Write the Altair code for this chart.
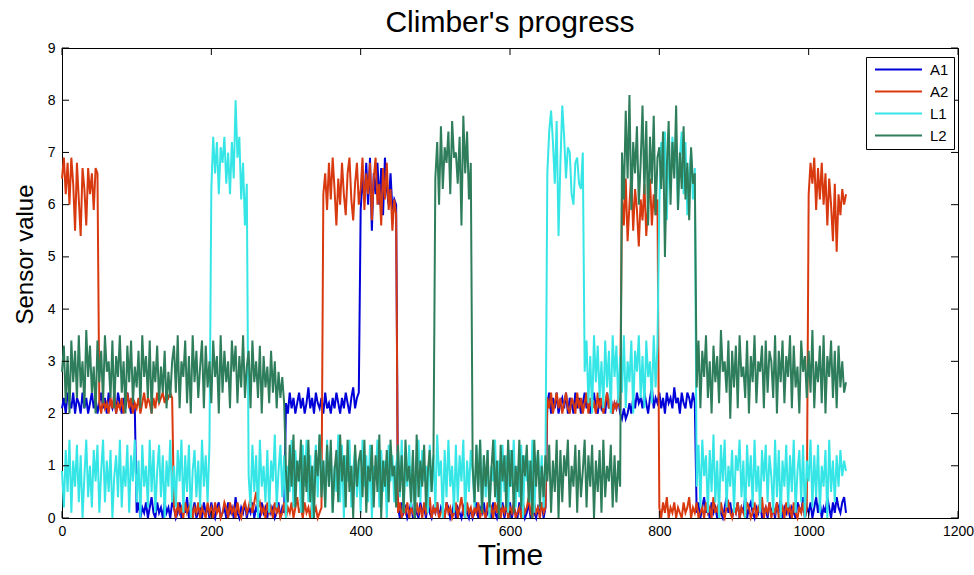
import altair as alt
import pandas as pd

FONT = "Liberation Sans, Arial, sans-serif"

SERIES = ["A1", "A2", "L1", "L2"]
COLORS = ["#0000d8", "#d8390f", "#36e6e6", "#2e7d5b"]
STEP = 2.5  # sample spacing along Time
XTICKS = [0, 200, 400, 600, 800, 1000, 1200]
YTICKS = [0, 1, 2, 3, 4, 5, 6, 7, 8, 9]

A1 = [
    # 0-97.5
    2.1, 2.3, 2.0, 2.4, 2.2, 2.1, 2.4, 2.0, 2.3, 2.2, 2.0, 2.4, 2.1, 2.3, 2.0, 2.2, 2.4, 2.1, 2.3, 2.0,
    2.2, 2.4, 2.1, 2.3, 2.0, 2.4, 2.2, 2.1, 2.3, 2.0, 2.4, 2.2, 2.0, 2.3, 2.1, 2.4, 2.2, 2.0, 2.3, 2.1,
    # 100-297.5
    0.1, 0.3, 0.0, 0.2, 0.1, 0.3, 0.0, 0.2, 0.4, 0.1, 0.0, 0.3, 0.1, 0.2, 0.0, 0.3, 0.1, 0.2, 0.0, 0.3,
    0.2, 0.0, 0.1, 0.3, 0.0, 0.2, 0.1, 0.4, 0.0, 0.2, 0.1, 0.3, 0.0, 0.1, 0.2, 0.0, 0.3, 0.1, 0.2, 0.0,
    0.3, 0.1, 0.0, 0.2, 0.3, 0.0, 0.1, 0.2, 0.0, 0.3, 0.1, 0.2, 0.0, 0.4, 0.1, 0.0, 0.2, 0.1, 0.3, 0.0,
    0.2, 0.1, 0.3, 0.0, 0.2, 0.1, 0.0, 0.3, 0.1, 0.2, 0.0, 0.3, 0.1, 0.2, 0.0, 0.1, 0.3, 0.0, 0.2, 0.1,
    # 300-397.5
    2.2, 2.0, 2.4, 2.1, 2.3, 2.0, 2.2, 2.4, 2.1, 2.3, 2.0, 2.2, 2.5, 2.1, 2.3, 2.0, 2.4, 2.2, 2.1, 2.3,
    2.0, 2.4, 2.1, 2.2, 2.0, 2.3, 2.1, 2.4, 2.2, 2.0, 2.3, 2.1, 2.4, 2.2, 2.0, 2.3, 2.5, 2.1, 2.3, 2.4,
    # 400-447.5
    5.9, 6.5, 6.1, 6.8, 6.0, 6.9, 5.5, 6.6, 6.2, 6.8, 6.0, 6.7, 5.8, 6.9, 6.3, 6.0, 6.6, 5.9, 6.1, 6.0,
    # 450-647.5
    0.2, 0.0, 0.3, 0.1, 0.2, 0.0, 0.1, 0.3, 0.0, 0.2, 0.1, 0.0, 0.3, 0.1, 0.2, 0.0, 0.3, 0.1, 0.0, 0.2,
    0.1, 0.3, 0.0, 0.2, 0.1, 0.0, 0.3, 0.2, 0.0, 0.1, 0.3, 0.0, 0.2, 0.1, 0.0, 0.2, 0.3, 0.1, 0.0, 0.2,
    0.0, 0.1, 0.3, 0.0, 0.2, 0.1, 0.3, 0.0, 0.1, 0.2, 0.0, 0.3, 0.1, 0.0, 0.2, 0.1, 0.3, 0.0, 0.2, 0.1,
    0.3, 0.0, 0.2, 0.1, 0.0, 0.3, 0.1, 0.2, 0.0, 0.1, 0.3, 0.0, 0.2, 0.1, 0.0, 0.2, 0.1, 0.3, 0.0, 0.2,
    # 650-847.5
    2.2, 2.4, 2.0, 2.3, 2.1, 2.4, 2.0, 2.2, 2.3, 2.1, 2.4, 2.0, 2.3, 2.2, 2.0, 2.4, 2.1, 2.3, 2.0, 2.2,
    2.4, 2.1, 2.3, 2.0, 2.2, 2.4, 2.1, 2.0, 2.3, 2.1, 2.2, 2.0, 2.4, 2.1, 2.3, 2.0, 2.2, 2.1, 2.3, 2.0,
    1.9, 2.1, 1.9, 2.0, 2.2, 2.0, 2.3, 2.1, 2.4, 2.2, 2.3, 2.1, 2.4, 2.2, 2.0, 2.3, 2.5, 2.1, 2.3, 2.2,
    2.4, 2.1, 2.3, 2.0, 2.4, 2.2, 2.3, 2.1, 2.5, 2.2, 2.3, 2.0, 2.4, 2.2, 2.1, 2.4, 2.3, 2.1, 2.4, 2.2,
    # 850-1050
    0.1, 0.3, 0.0, 0.2, 0.4, 0.1, 0.2, 0.0, 0.3, 0.1, 0.2, 0.0, 0.3, 0.1, 0.0, 0.2, 0.4, 0.1, 0.3, 0.0,
    0.2, 0.1, 0.3, 0.0, 0.2, 0.1, 0.4, 0.0, 0.2, 0.3, 0.1, 0.0, 0.2, 0.1, 0.3, 0.0, 0.1, 0.2, 0.0, 0.3,
    0.1, 0.2, 0.0, 0.3, 0.1, 0.4, 0.0, 0.2, 0.1, 0.3, 0.0, 0.2, 0.1, 0.0, 0.3, 0.2, 0.1, 0.4, 0.0, 0.2,
    0.1, 0.3, 0.0, 0.2, 0.4, 0.1, 0.3, 0.0, 0.2, 0.1, 0.4, 0.2, 0.0, 0.3, 0.1, 0.4, 0.2, 0.1, 0.3, 0.4,
    0.1,
]

A2 = [
    # 0-47.5
    6.5, 6.9, 6.2, 6.8, 6.0, 6.9, 6.4, 5.5, 6.8, 6.1, 5.4, 6.7, 6.3, 5.6, 6.7, 6.2, 6.6, 5.9, 6.7, 6.6,
    # 50-147.5
    2.2, 2.0, 2.3, 2.1, 2.2, 2.0, 2.3, 2.1, 2.4, 2.0, 2.2, 2.1, 2.3, 2.0, 2.2, 2.4, 2.1, 2.3, 2.0, 2.2,
    2.1, 2.3, 2.0, 2.2, 2.4, 2.1, 2.3, 2.2, 2.0, 2.3, 2.1, 2.4, 2.2, 2.3, 2.4, 2.2, 2.4, 2.3, 2.4, 2.3,
    # 150-347.5
    0.2, 0.0, 0.3, 0.1, 0.2, 0.0, 0.3, 0.1, 0.2, 0.3, 0.0, 0.2, 0.1, 0.3, 0.0, 0.2, 0.1, 0.0, 0.3, 0.1,
    0.2, 0.0, 0.3, 0.1, 0.2, 0.0, 0.1, 0.3, 0.2, 0.0, 0.3, 0.1, 0.2, 0.0, 0.3, 0.1, 0.0, 0.2, 0.3, 0.1,
    0.2, 0.4, 0.1, 0.3, 0.5, 0.2, 0.3, 0.1, 0.2, 0.0, 0.3, 0.1, 0.2, 0.0, 0.3, 0.1, 0.2, 0.0, 0.1, 0.3,
    0.0, 0.2, 0.1, 0.3, 0.0, 0.2, 0.4, 0.1, 0.2, 0.0, 0.3, 0.1, 0.2, 0.0, 0.3, 0.1, 0.2, 0.0, 0.1, 0.2,
    # 350-447.5
    6.2, 6.6, 5.9, 6.8, 6.1, 6.9, 6.3, 5.6, 6.5, 6.0, 6.8, 6.2, 5.8, 6.6, 6.9, 6.1, 5.7, 6.4, 6.8, 6.0,
    6.3, 6.9, 5.9, 6.6, 6.2, 6.8, 5.7, 6.5, 6.9, 6.0, 6.4, 5.6, 6.7, 6.1, 6.8, 5.9, 6.3, 5.5, 6.1, 5.8,
    # 450-647.5
    0.1, 0.3, 0.0, 0.2, 0.1, 0.3, 0.0, 0.2, 0.1, 0.0, 0.3, 0.1, 0.2, 0.0, 0.3, 0.1, 0.2, 0.4, 0.0, 0.2,
    0.1, 0.3, 0.0, 0.1, 0.2, 0.0, 0.3, 0.1, 0.2, 0.0, 0.1, 0.3, 0.0, 0.2, 0.4, 0.1, 0.0, 0.3, 0.1, 0.2,
    0.0, 0.2, 0.1, 0.3, 0.0, 0.2, 0.1, 0.0, 0.3, 0.1, 0.2, 0.0, 0.3, 0.1, 0.4, 0.0, 0.2, 0.1, 0.3, 0.0,
    0.2, 0.1, 0.3, 0.0, 0.1, 0.2, 0.0, 0.3, 0.1, 0.2, 0.4, 0.1, 0.0, 0.3, 0.1, 0.2, 0.0, 0.3, 0.1, 0.2,
    # 650-747.5
    2.3, 2.1, 2.4, 2.0, 2.2, 2.4, 2.1, 2.3, 2.0, 2.2, 2.4, 2.1, 2.0, 2.3, 2.2, 2.0, 2.4, 2.1, 2.3, 2.0,
    2.2, 2.4, 2.0, 2.3, 2.1, 2.2, 2.0, 2.4, 2.1, 2.3, 2.0, 2.2, 2.4, 2.1, 2.3, 2.0, 2.2, 2.1, 2.3, 2.1,
    # 750-797.5
    6.2, 5.6, 6.5, 5.3, 6.0, 6.6, 5.5, 6.3, 5.9, 5.2, 6.1, 5.7, 6.4, 5.4, 6.0, 6.5, 5.6, 6.2, 5.8, 6.1,
    # 800-997.5
    0.2, 0.0, 0.3, 0.1, 0.4, 0.0, 0.2, 0.1, 0.3, 0.0, 0.2, 0.1, 0.0, 0.3, 0.1, 0.2, 0.4, 0.0, 0.2, 0.1,
    0.3, 0.0, 0.1, 0.2, 0.0, 0.3, 0.1, 0.2, 0.0, 0.4, 0.1, 0.2, 0.0, 0.3, 0.1, 0.0, 0.2, 0.3, 0.1, 0.0,
    0.2, 0.1, 0.3, 0.0, 0.2, 0.1, 0.0, 0.3, 0.2, 0.0, 0.1, 0.3, 0.0, 0.2, 0.1, 0.4, 0.0, 0.2, 0.1, 0.3,
    0.0, 0.2, 0.1, 0.3, 0.0, 0.1, 0.2, 0.0, 0.3, 0.1, 0.2, 0.0, 0.3, 0.1, 0.0, 0.2, 0.1, 0.3, 0.0, 0.2,
    # 1000-1050
    6.2, 6.8, 6.4, 6.9, 5.9, 6.7, 6.1, 6.8, 6.0, 6.6, 5.6, 6.5, 6.0, 5.3, 6.4, 5.1, 6.2, 5.8, 6.3, 6.0,
    6.2,
]

L1 = [
    # 0-197.5
    0.9, 0.2, 1.3, 0.5, 1.5, 0.1, 1.1, 0.6, 1.4, 0.3, 1.2, 0.0, 0.8, 1.5, 0.4, 1.0, 0.2, 1.3, 0.7, 1.4,
    0.1, 0.9, 1.5, 0.3, 1.1, 0.5, 1.3, 0.0, 0.8, 1.2, 0.4, 1.5, 0.2, 1.0, 0.6, 1.4, 0.1, 1.2, 0.7, 1.5,
    0.3, 1.1, 0.0, 1.4, 0.6, 1.0, 0.2, 1.5, 0.5, 1.3, 0.1, 0.9, 1.4, 0.4, 1.2, 0.0, 1.1, 0.6, 1.5, 0.3,
    1.0, 0.2, 1.3, 0.7, 1.5, 0.1, 1.2, 0.5, 1.4, 0.0, 0.9, 1.3, 0.4, 1.1, 0.2, 1.5, 0.6, 1.2, 0.3, 1.4,
    # 200-247.5
    6.3, 7.3, 6.6, 7.2, 6.2, 7.1, 6.8, 7.3, 6.4, 7.0, 6.2, 7.2, 6.5, 8.0, 6.9, 7.3, 6.1, 6.8, 5.6, 6.4,
    # 250-647.5
    0.8, 0.2, 1.4, 0.5, 1.2, 0.0, 1.5, 0.6, 1.0, 0.3, 1.3, 0.1, 1.1, 0.7, 1.6, 0.2, 0.9, 1.4, 0.4, 1.2,
    0.0, 1.0, 0.5, 1.5, 0.2, 1.3, 0.7, 1.1, 0.1, 1.4, 0.6, 1.5, 0.3, 1.2, 0.0, 0.9, 1.4, 0.4, 1.6, 0.8,
    1.1, 0.2, 1.5, 0.6, 1.3, 0.1, 1.0, 0.5, 1.6, 0.3, 1.4, 0.0, 1.2, 0.7, 1.5, 0.2, 0.9, 1.3, 0.4, 1.1,
    0.1, 1.5, 0.6, 1.2, 0.3, 1.4, 0.0, 1.0, 0.8, 1.5, 0.2, 1.3, 0.5, 1.1, 0.0, 1.4, 0.7, 1.2, 0.3, 1.0,
    1.3, 0.4, 1.5, 0.1, 1.1, 0.6, 1.4, 0.2, 1.2, 0.0, 0.9, 1.5, 0.3, 1.3, 0.7, 1.0, 0.1, 1.4, 0.5, 1.2,
    0.2, 1.6, 0.8, 1.1, 0.0, 1.3, 0.4, 1.5, 0.6, 1.0, 0.1, 1.4, 0.3, 1.2, 0.7, 1.5, 0.0, 1.1, 0.5, 1.3,
    0.9, 0.2, 1.4, 0.6, 1.5, 0.1, 1.2, 0.4, 1.3, 0.0, 1.0, 0.7, 1.5, 0.3, 1.1, 0.2, 1.4, 0.5, 1.2, 0.1,
    1.3, 0.6, 1.5, 0.2, 1.0, 0.4, 1.4, 0.0, 1.2, 0.7, 1.1, 0.3, 1.5, 0.1, 0.9, 1.3, 0.5, 1.2, 0.2, 1.0,
    # 650-697.5
    6.6, 7.4, 7.8, 7.2, 6.4, 7.6, 5.4, 6.8, 7.9, 7.3, 6.5, 7.1, 7.0, 6.2, 6.0, 6.8, 6.9, 6.4, 6.3, 7.0,
    # 700-797.5
    2.8, 3.4, 2.2, 3.1, 2.0, 3.5, 2.6, 3.3, 2.3, 3.0, 2.1, 3.4, 2.5, 3.2, 2.0, 3.5, 2.7, 3.3, 2.2, 3.1,
    2.4, 3.5, 2.1, 3.0, 2.6, 3.4, 2.0, 3.2, 2.8, 3.5, 2.3, 3.1, 2.1, 3.4, 2.7, 3.0, 2.2, 3.5, 2.5, 3.3,
    # 800-847.5
    6.0, 7.2, 6.5, 7.4, 5.7, 7.0, 6.3, 7.3, 6.8, 7.1, 5.9, 6.9, 7.4, 6.2, 7.2, 5.8, 6.6, 7.0, 6.1, 6.7,
    # 850-1050
    0.6, 1.4, 0.2, 1.5, 0.8, 1.2, 0.1, 1.3, 0.5, 1.6, 0.3, 1.1, 0.0, 1.4, 0.7, 1.5, 0.2, 1.0, 0.6, 1.3,
    0.1, 1.2, 0.9, 1.5, 0.4, 1.1, 0.0, 1.4, 0.6, 1.2, 0.2, 1.5, 0.5, 1.0, 0.1, 1.3, 0.7, 1.4, 0.3, 1.2,
    0.8, 0.1, 1.5, 0.4, 1.3, 0.0, 1.1, 0.6, 1.4, 0.2, 1.2, 0.5, 1.5, 0.1, 0.9, 1.3, 0.3, 1.4, 0.0, 1.1,
    0.7, 1.5, 0.2, 1.2, 0.4, 1.4, 0.1, 1.0, 0.6, 1.3, 0.0, 1.5, 0.5, 1.1, 0.3, 1.2, 0.6, 1.3, 0.8, 1.1,
    0.9,
]

L2 = [
    # 0-297.5
    2.8, 3.3, 2.2, 3.1, 2.0, 3.4, 2.6, 3.2, 2.3, 3.5, 2.5, 3.0, 2.1, 3.6, 2.7, 3.3, 2.4, 2.9, 2.0, 3.4,
    2.6, 3.2, 2.2, 3.5, 2.8, 3.0, 2.3, 3.4, 2.1, 3.1, 2.7, 3.5, 2.4, 3.0, 2.0, 3.3, 2.6, 3.4, 2.2, 2.9,
    2.5, 3.2, 2.1, 3.5, 2.7, 3.1, 2.3, 3.4, 2.0, 3.0, 2.6, 3.3, 2.2, 2.9, 2.4, 3.2, 2.1, 2.8, 2.3, 3.0,
    3.3, 2.4, 3.5, 2.1, 3.0, 2.7, 3.4, 2.2, 3.1, 2.0, 3.5, 2.6, 3.2, 2.3, 2.9, 3.4, 2.1, 3.3, 2.5, 3.0,
    2.2, 3.4, 2.7, 3.1, 2.0, 3.5, 2.4, 3.2, 2.6, 3.0, 2.1, 3.4, 2.8, 3.3, 2.2, 3.1, 2.5, 3.5, 2.3, 2.9,
    3.2, 2.1, 3.4, 2.6, 3.0, 2.3, 3.3, 2.0, 3.1, 2.5, 2.9, 2.2, 3.2, 2.4, 3.0, 2.1, 2.8, 2.3, 2.7, 2.2,
    # 300-497.5
    0.9, 0.3, 1.4, 0.6, 1.6, 0.2, 1.1, 0.7, 1.5, 0.1, 1.2, 0.5, 1.5, 0.3, 1.0, 0.0, 1.3, 0.8, 1.6, 0.4,
    1.1, 0.2, 1.4, 0.6, 1.5, 0.1, 0.9, 1.3, 0.3, 1.6, 0.7, 1.2, 0.2, 1.5, 0.5, 1.0, 0.0, 1.4, 0.6, 1.1,
    1.3, 0.4, 1.5, 0.1, 1.0, 0.7, 1.4, 0.2, 1.2, 0.5, 1.6, 0.0, 1.1, 0.6, 1.3, 0.3, 1.5, 0.8, 1.0, 0.2,
    1.4, 0.5, 1.2, 0.1, 1.5, 0.7, 1.0, 0.3, 1.3, 0.0, 1.6, 0.4, 1.1, 0.6, 1.4, 0.2, 0.9, 1.3, 0.5, 1.2,
    # 500-547.5
    6.5, 7.2, 6.0, 7.5, 6.3, 7.1, 6.8, 7.4, 6.2, 7.6, 6.9, 7.0, 6.4, 7.3, 5.6, 7.7, 6.6, 7.4, 6.1, 6.8,
    # 550-747.5
    1.0, 0.3, 1.4, 0.5, 1.5, 0.1, 1.2, 0.6, 1.3, 0.2, 0.9, 1.5, 0.4, 1.1, 0.0, 1.4, 0.7, 1.2, 0.2, 1.5,
    0.6, 1.3, 0.1, 1.0, 0.5, 1.5, 0.2, 1.2, 0.8, 1.4, 0.3, 1.1, 0.0, 1.5, 0.6, 1.3, 0.2, 1.0, 0.4, 1.2,
    0.7, 1.4, 0.1, 1.1, 0.5, 1.5, 0.0, 1.3, 0.3, 1.2, 0.8, 1.5, 0.2, 1.0, 0.6, 1.4, 0.1, 1.3, 0.4, 0.9,
    1.5, 0.2, 1.2, 0.6, 1.4, 0.0, 1.1, 0.5, 1.3, 0.1, 1.5, 0.4, 1.0, 0.7, 1.4, 0.2, 1.2, 0.3, 1.1, 0.6,
    # 750-847.5
    7.0, 6.1, 7.8, 6.5, 8.1, 5.9, 7.2, 6.6, 7.5, 6.0, 6.8, 7.9, 6.2, 7.6, 5.6, 7.3, 6.4, 7.7, 5.8, 6.9,
    7.1, 6.3, 7.4, 5.0, 6.7, 7.6, 6.0, 7.2, 6.5, 7.9, 5.9, 7.0, 6.3, 7.5, 6.1, 6.8, 5.7, 7.1, 6.4, 6.6,
    # 850-1050
    2.5, 3.4, 2.1, 3.2, 2.7, 3.5, 2.3, 3.0, 2.0, 3.3, 2.6, 3.1, 2.2, 3.6, 2.8, 3.0, 2.4, 3.4, 1.9, 3.2,
    2.5, 3.3, 2.1, 3.5, 2.7, 2.9, 2.3, 3.4, 2.0, 3.1, 2.6, 3.5, 2.2, 3.0, 2.8, 3.3, 2.1, 3.4, 2.4, 3.2,
    3.0, 2.3, 3.5, 2.0, 3.2, 2.6, 3.4, 2.2, 3.1, 2.7, 3.5, 2.1, 3.3, 2.5, 2.9, 2.0, 3.4, 2.8, 3.1, 2.3,
    3.2, 2.4, 3.6, 2.1, 3.0, 2.6, 3.3, 2.2, 3.5, 2.0, 3.1, 2.7, 3.4, 2.3, 3.2, 2.1, 3.3, 2.5, 3.0, 2.4,
    2.6,
]

rows = []
for name, vals in zip(SERIES, [A1, A2, L1, L2]):
    for i, v in enumerate(vals):
        rows.append({"Time": i * STEP, "value": v, "series": name})
df = pd.DataFrame(rows)

W, H = 896, 470
TICK = 7

xscale = alt.Scale(domain=[0, 1200], nice=False, zero=False)
yscale = alt.Scale(domain=[0, 9], nice=False, zero=False)

xaxis = alt.Axis(
    values=XTICKS, format="d", ticks=False, tickSize=0, domain=False, grid=False,
    labelFont=FONT, labelFontSize=14, labelColor="black", labelPadding=6,
    labelFlush=False, title="Time", titleFont=FONT, titleFontSize=30,
    titleFontWeight="normal", titleColor="black", titleY=46,
    titleBaseline="alphabetic",
)
yaxis = alt.Axis(
    values=YTICKS, format="d", ticks=False, tickSize=0, domain=False, grid=False,
    labelFont=FONT, labelFontSize=14, labelColor="black", labelPadding=7,
    labelFlush=False, title="Sensor value", titleFont=FONT,
    titleFontSize=24, titleFontWeight="normal", titleColor="black",
    titleX=-30, titleY=206, titleBaseline="alphabetic", titleAngle=270,
)

legend = alt.Legend(
    title=None, orient="none", legendX=804, legendY=9,
    symbolType="M-4,0H4", symbolSize=138, symbolStrokeWidth=2,
    symbolOffset=20, labelOffset=24,
    labelFont=FONT, labelFontSize=15, labelColor="black",
    fillColor="white", strokeColor="black", padding=5, rowPadding=6,
    cornerRadius=0,
)

color = alt.Color("series:N", scale=alt.Scale(domain=SERIES, range=COLORS),
                  legend=legend)

layers = []
for name in SERIES:
    layers.append(
        alt.Chart(df)
        .transform_filter(alt.datum.series == name)
        .mark_line(strokeWidth=2)
        .encode(
            x=alt.X("Time:Q", scale=xscale, axis=xaxis),
            y=alt.Y("value:Q", scale=yscale, axis=yaxis),
            color=color,
        )
    )

xt = pd.DataFrame({"Time": XTICKS})
yt = pd.DataFrame({"value": YTICKS})
tick_bottom = alt.Chart(xt).mark_rule(color="black", strokeWidth=1).encode(
    x=alt.X("Time:Q", scale=xscale, axis=xaxis), y=alt.value(H), y2=alt.value(H - TICK))
tick_top = alt.Chart(xt).mark_rule(color="black", strokeWidth=1).encode(
    x=alt.X("Time:Q", scale=xscale, axis=xaxis), y=alt.value(0), y2=alt.value(TICK))
tick_left = alt.Chart(yt).mark_rule(color="black", strokeWidth=1).encode(
    y=alt.Y("value:Q", scale=yscale, axis=yaxis), x=alt.value(0), x2=alt.value(TICK))
tick_right = alt.Chart(yt).mark_rule(color="black", strokeWidth=1).encode(
    y=alt.Y("value:Q", scale=yscale, axis=yaxis), x=alt.value(W), x2=alt.value(W - TICK))

chart = (
    alt.layer(*layers, tick_bottom, tick_top, tick_left, tick_right)
    .properties(
        width=W, height=H,
        title=alt.TitleParams("Climber's progress", font=FONT, fontSize=30,
                              fontWeight="normal", color="black", anchor="middle",
                              frame="group", offset=16, baseline="alphabetic",
                              dy=37),
        autosize=alt.AutoSizeParams(type="none"),
        padding={"left": 62, "top": 48, "right": 16, "bottom": 57},
    )
    .configure(background="white")
    .configure_view(stroke="black", strokeWidth=1)
)

chart.save("out.html", embed_options={"renderer": "svg", "actions": False})
